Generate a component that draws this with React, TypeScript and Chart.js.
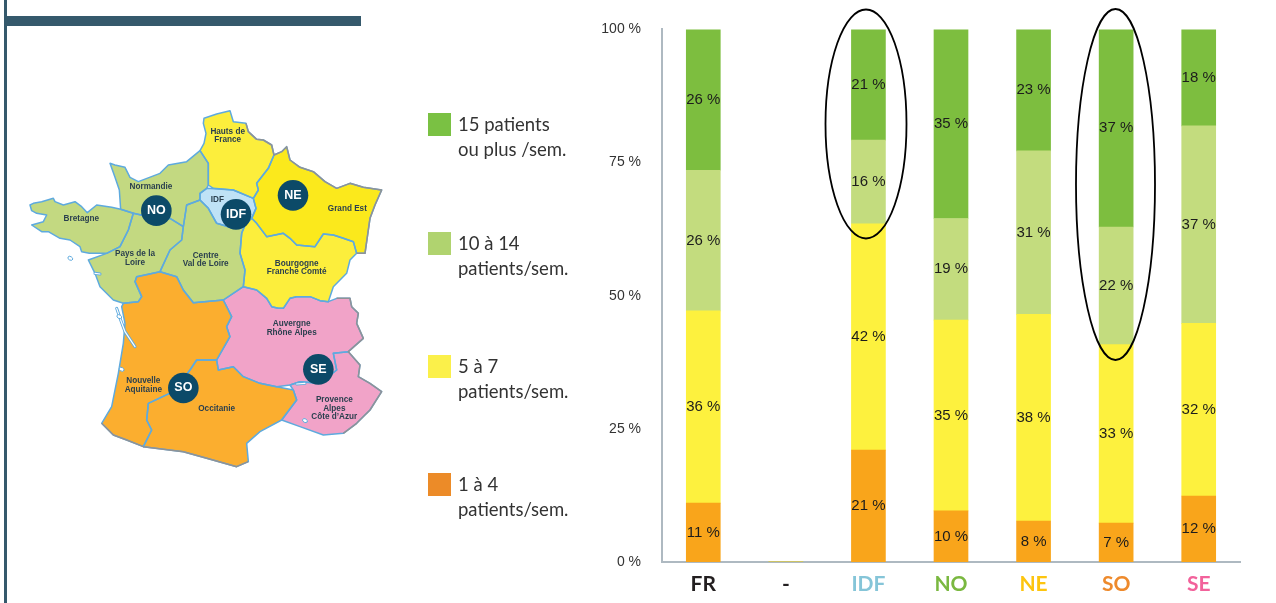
import React, { useEffect, useRef } from "react";
import { Chart, registerables } from "chart.js";

Chart.register(...registerables);

// ---- chart data ----
const categories = ["FR", "-", "IDF", "NO", "NE", "SO", "SE"];
const categoryColors = ["#231f20", "#231f20", "#85c5d8", "#7ab840", "#fdc50f", "#ee8a2c", "#f2629b"];
const yTicks = [0, 25, 50, 75, 100];

const orange = [11.05, 0, 21.0, 9.6, 7.7, 7.3, 12.4];
const yellow = [36.1, 0, 42.5, 35.8, 38.8, 33.5, 32.4];
const lightGreen = [26.4, 0, 15.7, 19.1, 30.7, 22.1, 37.1];
const darkGreen = [26.45, 0, 20.8, 35.5, 22.8, 37.1, 18.1];

const orangeLabels = ["11 %", "", "21 %", "10 %", "8 %", "7 %", "12 %"];
const yellowLabels = ["36 %", "", "42 %", "35 %", "38 %", "33 %", "32 %"];
const lightGreenLabels = ["26 %", "", "16 %", "19 %", "31 %", "22 %", "37 %"];
const darkGreenLabels = ["26 %", "", "21 %", "35 %", "23 %", "37 %", "18 %"];

const legendLines = [
  ["15 patients", "ou plus /sem."],
  ["10 à 14", "patients/sem."],
  ["5 à 7", "patients/sem."],
  ["1 à 4", "patients/sem."],
];
const legendSwatches = ["#7ac143", "#b0d36f", "#fbf04a", "#ec8b28"];
const legendTops = [113, 232, 355, 473];

// ---- illustration: map of France (traced in 3x crop coordinates) ----
type Pt = number[];
const regionShapes: { fill: string; pts: Pt[] }[] = [
  { fill: "#fcee3c", pts: [[690,62],[650,72],[612,85],[610,100],[618,130],[612,160],[600,182],[625,220],[625,285],[640,295],[700,300],[760,325],[775,300],[770,280],[805,235],[822,195],[815,165],[790,150],[770,148],[745,125],[738,100],[700,95]] },
  { fill: "#fbe91c", pts: [[822,195],[845,185],[860,170],[870,210],[900,232],[940,245],[975,275],[1010,295],[1050,280],[1090,292],[1145,300],[1125,345],[1110,385],[1105,420],[1095,490],[1070,490],[1060,455],[1030,445],[1000,435],[970,432],[945,470],[890,465],[870,445],[850,430],[800,440],[770,400],[755,385],[768,355],[760,325],[775,300],[770,280],[805,235]] },
  { fill: "#bfe2f6", pts: [[600,310],[620,295],[700,300],[760,325],[768,355],[755,385],[735,405],[700,415],[650,400],[625,355],[600,330]] },
  { fill: "#fcee3c", pts: [[755,385],[770,400],[800,440],[850,430],[870,445],[890,465],[945,470],[970,432],[1000,435],[1030,445],[1060,455],[1070,490],[1050,510],[1040,550],[1020,570],[1000,590],[985,635],[960,632],[930,620],[890,620],[870,625],[850,655],[835,655],[815,650],[800,625],[770,600],[730,590],[735,540],[720,490],[725,430],[735,405]] },
  { fill: "#c3d981", pts: [[600,182],[625,220],[625,285],[620,295],[600,310],[600,330],[560,345],[550,410],[510,385],[490,390],[400,370],[362,358],[358,300],[345,262],[330,220],[345,225],[375,232],[390,262],[415,275],[480,250],[505,225],[560,215]] },
  { fill: "#c3d981", pts: [[90,345],[100,340],[125,335],[160,325],[165,335],[190,345],[225,335],[245,350],[262,368],[290,345],[335,352],[362,358],[400,370],[385,420],[360,470],[320,490],[268,490],[245,485],[240,470],[210,450],[180,445],[145,425],[125,425],[95,405],[130,395],[140,375],[110,370],[95,362]] },
  { fill: "#c3d981", pts: [[400,370],[490,390],[510,385],[550,410],[545,450],[510,480],[480,545],[410,560],[405,575],[425,620],[415,635],[370,640],[340,630],[300,590],[285,550],[265,510],[320,490],[360,470],[385,420]] },
  { fill: "#c3d981", pts: [[560,345],[600,330],[625,355],[650,400],[700,415],[735,405],[725,430],[720,490],[735,540],[730,590],[670,630],[580,638],[550,600],[530,560],[480,545],[510,480],[545,450],[550,410]] },
  { fill: "#fbae2f", pts: [[480,545],[530,560],[550,600],[580,638],[670,630],[695,680],[680,710],[690,740],[650,810],[590,810],[570,840],[520,905],[445,940],[440,990],[455,1020],[430,1070],[380,1050],[340,1035],[305,1000],[335,950],[355,850],[370,760],[375,700],[365,650],[370,640],[415,635],[425,620],[405,575],[410,560]] },
  { fill: "#fbae2f", pts: [[590,810],[650,810],[655,840],[700,830],[730,860],[780,880],[830,890],[880,900],[890,930],[845,990],[780,1025],[740,1060],[745,1115],[710,1130],[620,1105],[550,1085],[430,1070],[455,1020],[440,990],[445,940],[520,905],[570,840]] },
  { fill: "#f1a3c8", pts: [[670,630],[730,590],[770,600],[800,625],[815,650],[835,655],[850,655],[870,625],[890,620],[930,620],[960,632],[985,635],[1010,625],[1050,625],[1055,650],[1075,670],[1070,700],[1090,745],[1045,785],[1000,790],[1010,840],[960,880],[900,875],[870,885],[830,890],[780,880],[730,860],[700,830],[655,840],[650,810],[690,740],[680,710],[695,680]] },
  { fill: "#f1a3c8", pts: [[1045,785],[1080,825],[1075,860],[1110,880],[1145,905],[1110,960],[1070,1000],[1030,1030],[970,1035],[900,1010],[845,990],[890,930],[880,900],[870,885],[900,875],[960,880],[1010,840],[1000,790]] },
];
const grayBorders: Pt[][] = [
  [[738,100],[745,125],[770,148],[790,150],[815,165],[822,195],[845,185],[860,170],[870,210],[900,232],[940,245],[975,275],[1010,295],[1050,280],[1090,292],[1145,300],[1125,345],[1110,385],[1105,420],[1095,490],[1070,490]],
  [[1010,625],[1050,625],[1055,650],[1075,670],[1070,700],[1090,745],[1045,785],[1080,825],[1075,860],[1110,880],[1145,905],[1110,960],[1070,1000],[1030,1030]],
  [[305,1000],[340,1035],[380,1050],[430,1070],[550,1085],[620,1105],[710,1130],[745,1115]],
];
const estuaries: Pt[][] = [
  [[350,655],[362,690],[375,725],[405,770]],
  [[285,550],[300,552]],
  [[890,882],[915,880]],
];
const islands: Pt[] = [[211,505],[358,680],[365,838],[915,992]];
const mapLabels: { t: string[]; x: number; y: number }[] = [
  { t: ["Hauts de", "France"], x: 683, y: 124 },
  { t: ["Normandie"], x: 453, y: 291 },
  { t: ["IDF"], x: 652, y: 330 },
  { t: ["Grand Est"], x: 1042, y: 356 },
  { t: ["Bretagne"], x: 244, y: 387 },
  { t: ["Pays de la", "Loire"], x: 405, y: 492 },
  { t: ["Centre", "Val de Loire"], x: 617, y: 496 },
  { t: ["Bourgogne", "Franche Comté"], x: 890, y: 521 },
  { t: ["Auvergne", "Rhône Alpes"], x: 875, y: 702 },
  { t: ["Nouvelle", "Aquitaine"], x: 430, y: 873 },
  { t: ["Occitanie"], x: 650, y: 955 },
  { t: ["Provence", "Alpes", "Côte d’Azur"], x: 1003, y: 930 },
];
const mapBadges: { t: string; x: number; y: number }[] = [
  { t: "NE", x: 879, y: 316 },
  { t: "NO", x: 469, y: 362 },
  { t: "IDF", x: 708, y: 373 },
  { t: "SE", x: 955, y: 838 },
  { t: "SO", x: 550, y: 894 },
];
const mx = (x: number) => x / 3;
const my = (y: number) => y / 3 + 90;

const trace = (c: CanvasRenderingContext2D, pts: Pt[]) => {
  c.beginPath();
  pts.forEach((p, i) => (i ? c.lineTo(mx(p[0]), my(p[1])) : c.moveTo(mx(p[0]), my(p[1]))));
};

const pagePlugin = {
  id: "page",
  beforeDraw(chart: any) {
    const c = chart.ctx as CanvasRenderingContext2D;
    c.save();
    c.fillStyle = "#ffffff";
    c.fillRect(0, 0, chart.width, chart.height);
    // header rule and left stripe
    c.fillStyle = "#35596c";
    c.fillRect(4, 0, 3, 603);
    c.fillRect(5, 16, 356, 10);
    // map
    c.lineJoin = "round";
    for (const r of regionShapes) {
      trace(c, r.pts);
      c.closePath();
      c.fillStyle = r.fill;
      c.fill();
    }
    c.strokeStyle = "#5eaade";
    c.lineWidth = 1.5;
    for (const r of regionShapes) {
      trace(c, r.pts);
      c.closePath();
      c.stroke();
    }
    c.strokeStyle = "#8f9296";
    for (const line of grayBorders) {
      trace(c, line);
      c.stroke();
    }
    // estuaries and islands
    c.lineCap = "round";
    for (const e of estuaries) {
      trace(c, e);
      c.strokeStyle = "#5eaade";
      c.lineWidth = 3;
      c.stroke();
      c.strokeStyle = "#ffffff";
      c.lineWidth = 1.2;
      c.stroke();
    }
    c.strokeStyle = "#5eaade";
    c.lineWidth = 1;
    c.fillStyle = "#ffffff";
    for (const p of islands) {
      c.beginPath();
      c.ellipse(mx(p[0]), my(p[1]), 2.6, 1.8, 0.5, 0, Math.PI * 2);
      c.fill();
      c.stroke();
    }
    c.textAlign = "center";
    c.textBaseline = "middle";
    c.fillStyle = "#2a3f4e";
    c.font = 'bold 8.2px "Liberation Sans"';
    for (const l of mapLabels) {
      l.t.forEach((s, i) => c.fillText(s, mx(l.x), my(l.y + i * 25)));
    }
    for (const b of mapBadges) {
      c.fillStyle = "#0c4a68";
      c.beginPath();
      c.arc(mx(b.x), my(b.y), 15.3, 0, Math.PI * 2);
      c.fill();
      c.fillStyle = "#ffffff";
      c.font = 'bold 12.5px "Liberation Sans"';
      c.fillText(b.t, mx(b.x), my(b.y));
    }
    // legend
    c.textAlign = "left";
    c.textBaseline = "middle";
    legendLines.forEach((lines, i) => {
      c.fillStyle = legendSwatches[i];
      c.fillRect(428, legendTops[i], 23, 23);
      c.fillStyle = "#333333";
      c.font = '18.5px "Lato"';
      lines.forEach((s, j) => c.fillText(s, 458, legendTops[i] + 12 + j * 25));
    });
    c.restore();
  },
};

const labelPlugin = {
  id: "segmentLabels",
  afterDatasetsDraw(chart: any) {
    const c = chart.ctx as CanvasRenderingContext2D;
    c.save();
    c.font = '15px "Liberation Sans"';
    c.fillStyle = "#1c1c1c";
    c.textAlign = "center";
    c.textBaseline = "middle";
    chart.data.datasets.forEach((ds: any, di: number) => {
      chart.getDatasetMeta(di).data.forEach((bar: any, i: number) => {
        const t = ds.segmentLabels[i];
        if (t) c.fillText(t, bar.x, (bar.y + bar.base) / 2);
      });
    });
    // hand-drawn ellipses around IDF and SO
    c.strokeStyle = "#000000";
    c.lineWidth = 1.8;
    c.beginPath();
    c.ellipse(866, 124, 40.5, 114.5, 0, 0, Math.PI * 2);
    c.stroke();
    c.beginPath();
    c.ellipse(1115.5, 184.5, 39.5, 175.5, 0, 0, Math.PI * 2);
    c.stroke();
    c.restore();
  },
};

export default function App() {
  const ref = useRef<HTMLCanvasElement>(null);
  useEffect(() => {
    const mk = (label: string, data: number[], backgroundColor: string, segmentLabels: string[]) => ({
      label, data, backgroundColor, segmentLabels, barThickness: 34, borderWidth: 0,
    });
    const chart = new Chart(ref.current!, {
      type: "bar",
      data: {
        labels: categories,
        datasets: [
          mk("1 à 4 patients/sem.", orange, "#f9a51b", orangeLabels),
          mk("5 à 7 patients/sem.", yellow, "#fdf13e", yellowLabels),
          mk("10 à 14 patients/sem.", lightGreen, "#c3dc7e", lightGreenLabels),
          mk("15 patients ou plus /sem.", darkGreen, "#7dbe3f", darkGreenLabels),
        ] as any,
      },
      options: {
        animation: false,
        responsive: false,
        layout: { padding: { top: 27, right: 36, bottom: 0, left: 0 } },
        plugins: { legend: { display: false }, tooltip: { enabled: false } },
        scales: {
          x: {
            stacked: true,
            grid: { display: false, drawTicks: false },
            border: { color: "#aeb9c1", width: 2 },
            ticks: {
              color: categoryColors,
              font: { family: "Lato", size: 21, weight: "bold" },
              padding: 10,
              maxRotation: 0,
            },
            afterFit: (s: any) => { s.height = 41; },
          },
          y: {
            stacked: true,
            min: 0,
            max: 100,
            afterBuildTicks: (s: any) => { s.ticks = yTicks.map((value) => ({ value })); },
            grid: { display: false, drawTicks: false },
            border: { color: "#aeb9c1", width: 2 },
            ticks: {
              color: "#333333",
              font: { family: "Liberation Sans", size: 14 },
              padding: 21,
              callback: (v: any) => `${v} %`,
            },
            afterFit: (s: any) => { s.width = 662; },
          },
        },
      },
      plugins: [pagePlugin, labelPlugin],
    } as any);
    return () => chart.destroy();
  }, []);
  return (
    <canvas
      ref={ref}
      width={1276}
      height={603}
      style={{ position: "absolute", left: 0, top: 0, display: "block" }}
    />
  );
}
